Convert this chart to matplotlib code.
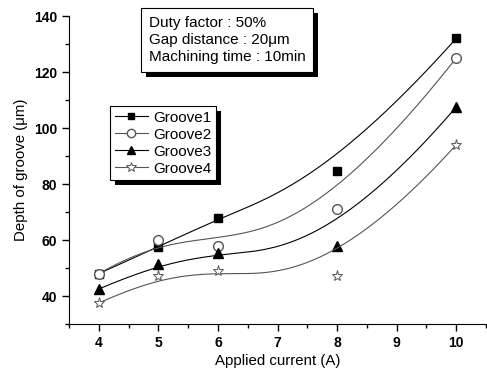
import numpy as np
import matplotlib
matplotlib.use("Agg")
import matplotlib.pyplot as plt
import matplotlib.patheffects as pe

plt.rcParams['font.family'] = ['Liberation Sans', 'DejaVu Sans']

current = [4, 5, 6, 8, 10]
groove1 = [48, 57.5, 68, 84.5, 132]
groove2 = [48, 60, 58, 71, 125]
groove3 = [42.5, 51.5, 55.5, 58, 107.5]
groove4 = [37.5, 47, 49, 47, 94]
labels = ['Groove1', 'Groove2', 'Groove3', 'Groove4']


def basis(i, k, t, knots):
    # Cox-de Boor recursion
    if k == 0:
        last = knots[i + 1] == knots[-1]
        if last:
            return ((t >= knots[i]) & (t <= knots[i + 1])).astype(float)
        return ((t >= knots[i]) & (t < knots[i + 1])).astype(float)
    out = np.zeros_like(t)
    d1 = knots[i + k] - knots[i]
    d2 = knots[i + k + 1] - knots[i + 1]
    if d1 > 0:
        out += (t - knots[i]) / d1 * basis(i, k - 1, t, knots)
    if d2 > 0:
        out += (knots[i + k + 1] - t) / d2 * basis(i + 1, k - 1, t, knots)
    return out


def bspline(px, py, deg=3, n=300):
    # clamped b-spline, data points used as control points
    m = len(px)
    inner = list(range(1, m - deg))
    knots = [0] * (deg + 1) + inner + [m - deg] * (deg + 1)
    knots = np.array(knots, float)
    t = np.linspace(0, knots[-1], n)
    B = np.array([basis(i, deg, t, knots) for i in range(m)])
    return B.T @ np.array(px, float), B.T @ np.array(py, float)


fig = plt.figure(figsize=(4.87, 3.70), dpi=100)
ax = fig.add_axes([69/487, 1-324/370, 417/487, (324-16)/370])

styles = [
    dict(marker='s', color='black', mfc='black', mec='black', ms=6),
    dict(marker='o', color='#555555', mfc='white', mec='#555555', ms=7),
    dict(marker='^', color='black', mfc='black', mec='black', ms=7),
    dict(marker='*', color='#555555', mfc='white', mec='#555555', ms=8, mew=0.7),
]

for y, lab, st in zip([groove1, groove2, groove3, groove4], labels, styles):
    bx, by = bspline(current, y)
    ax.plot(bx, by, color=st['color'], lw=0.8)
    ax.plot(current, y, ls='none', marker=st['marker'], mfc=st['mfc'],
            mec=st['mec'], ms=st['ms'], mew=st.get('mew', 1))
    ax.plot([], [], color=st['color'], lw=0.8, marker=st['marker'], mfc=st['mfc'],
            mec=st['mec'], ms=st['ms'] - 1, mew=st.get('mew', 1), label=lab)

ax.set_xlim(3.5, 10.5)
ax.set_ylim(30, 140)
ax.set_xticks([4, 5, 6, 7, 8, 9, 10])
ax.set_xticks(np.arange(3.5, 10.6, 0.5), minor=True)
ax.set_yticks([40, 60, 80, 100, 120, 140])
ax.set_yticks(np.arange(30, 141, 10), minor=True)
ax.spines['top'].set_visible(False)
ax.spines['right'].set_visible(False)
ax.tick_params(which='major', direction='out', length=5, width=1, labelsize=10)
ax.tick_params(which='minor', direction='out', length=3, width=1)
for t in ax.get_xticklabels() + ax.get_yticklabels():
    t.set_fontweight('bold')
ax.set_xlabel('Applied current (A)', fontsize=10.8, labelpad=3)
ax.set_ylabel('Depth of groove (\u03bcm)', fontsize=10.8, labelpad=4)

shadow = [pe.SimplePatchShadow(offset=(3.6, -3.6), shadow_rgbFace='black', alpha=1), pe.Normal()]

leg = ax.legend(loc='upper left', bbox_to_anchor=((110-69)/417, (324-106)/308),
                fontsize=11, frameon=True, fancybox=False, framealpha=1,
                edgecolor='black', handlelength=2.2, handletextpad=0.3,
                labelspacing=0.2, borderpad=0.3, borderaxespad=0)
leg.get_frame().set_linewidth(0.8)
leg.get_frame().set_path_effects(shadow)

txt = ax.text((149-69)/417, (324-16)/308,
              'Duty factor : 50%\nGap distance : 20\u03bcm\nMachining time : 10min',
              transform=ax.transAxes, ha='left', va='top', fontsize=11,
              linespacing=1.28,
              bbox=dict(boxstyle='square,pad=0.5', fc='white', ec='black', lw=0.8))
txt.get_bbox_patch().set_path_effects(shadow)

fig.savefig('out.png', dpi=100)
